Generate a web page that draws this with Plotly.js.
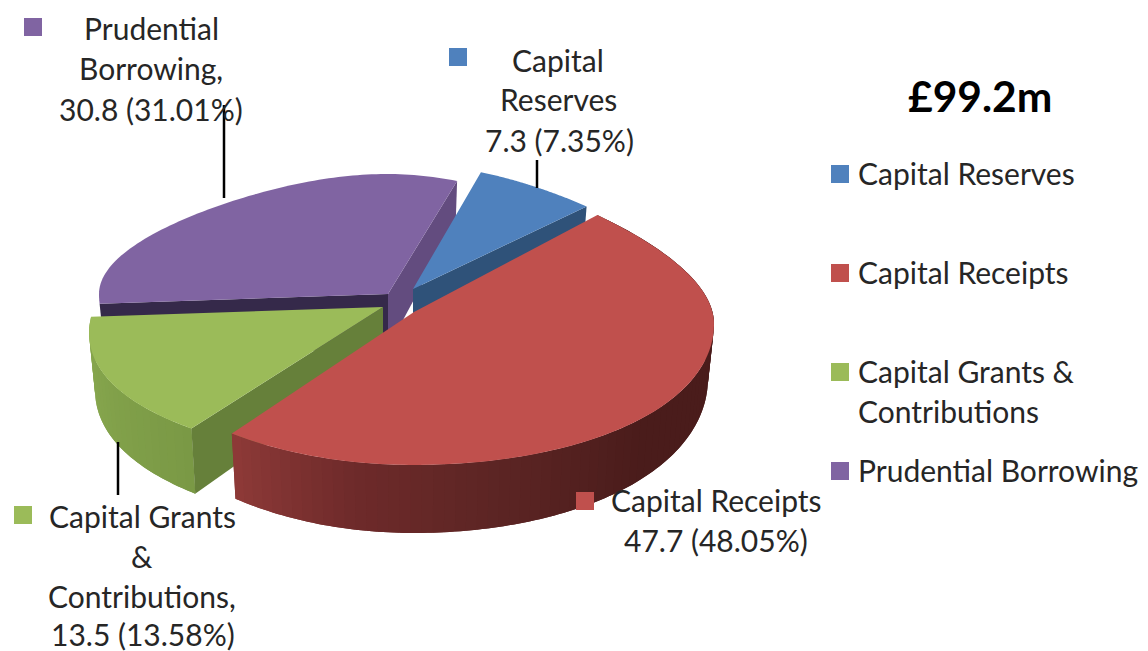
<!DOCTYPE html>
<html><head><meta charset="utf-8">
<script src="https://cdn.plot.ly/plotly-3.0.1.min.js"></script>
<style>html,body{margin:0;padding:0;background:#fff}</style></head>
<body><div id="chart" style="width:1148px;height:651px"></div>
<script>
(function(){
// ---- data ----
const categories = ["Capital Reserves","Capital Receipts","Capital Grants & Contributions","Prudential Borrowing"];
const values = [7.3,47.7,13.5,30.8];
const percents = ["7.35%","48.05%","13.58%","31.01%"];
const chartTitle = "£99.2m";

// ---- styling / placement ----
const topColors  = ["#4f81bd","#c0504d","#9bbb59","#8064a2"];
const FONT = "Lato, 'Open Sans', sans-serif";
const TXT = "#262626";
const FS = 30;
const apexX = [413,414,383,388], apexY = [289,312,307,294];
const radX  = [284,300,289,289];
const ryBack = [124,144,124,120];
const frontBulge = [0,0,0.19,0];
const START = 18;
const RY_FRONT = 153, SAG = 12;

const total = values.reduce((a,b)=>a+b,0);
const angles = []; let acc = START;
values.forEach(v=>{ angles.push([acc, acc + v/total*360]); acc += v/total*360; });

function wallH(v){ return 54 - 14*v; }
function proj(i, deg, z){            // z: 0 = top face, 1 = bottom of wall
  const t = deg*Math.PI/180, u = Math.sin(t), v = Math.cos(t);
  const g = v>0 ? 1-0.25*v*v : 1+frontBulge[i]*Math.abs(u*v);
  const dx = radX[i]*u*g*(1-0.02*z);
  const dy = -v*(v>0?ryBack[i]:RY_FRONT) + (u>0?SAG*u*u:0) + wallH(v)*z;
  return [apexX[i]+dx, apexY[i]+dy];
}
function apexAt(i, z){ return [apexX[i], apexY[i]+54*z]; }
const traces = [];
function poly(pts, color){
  const xs = pts.map(p=>p[0]).concat([pts[0][0]]);
  const ys = pts.map(p=>p[1]).concat([pts[0][1]]);
  traces.push({type:"scatter",mode:"none",x:xs,y:ys,fill:"toself",fillcolor:color,
    hoverinfo:"skip",showlegend:false});
}
function arc(i,a,b,z,n){ const r=[]; for(let k=0;k<=n;k++) r.push(proj(i,a+(b-a)*k/n,z)); return r; }
function topFace(i){ poly([[apexX[i],apexY[i]]].concat(arc(i,angles[i][0],angles[i][1],0,90)), topColors[i]); }
function edgeWall(i,deg,color){ poly([apexAt(i,0),proj(i,deg,0),proj(i,deg,1),apexAt(i,1)],color); }
function mix(a,b,f){ const c=[a,b].map(h=>[1,3,5].map(k=>parseInt(h.substr(k,2),16)));
  return "rgb("+[0,1,2].map(k=>Math.round(c[0][k]+(c[1][k]-c[0][k])*f)).join(",")+")"; }
function ramp(stops,f){
  for(let k=1;k<stops.length;k++){
    if(f<=stops[k][0]) return mix(stops[k-1][1],stops[k][1],(f-stops[k-1][0])/(stops[k][0]-stops[k-1][0]));
  }
  return stops[stops.length-1][1];
}
function outerWall(i,a,b,stops,n){   // strips overlap the next one, so no seams show
  for(let k=0;k<n;k++){
    const s=a+(b-a)*k/n, e=a+(b-a)*Math.min(k+2,n)/n;
    poly(arc(i,s,e,0,4).concat(arc(i,e,s,1,4)), ramp(stops,(k+0.5)/n));
  }
}
// purple (back)
edgeWall(3,angles[3][0],"#35294a");
edgeWall(3,angles[3][1],"#634c7f");
topFace(3);
// blue
edgeWall(0,angles[0][1],"#2f5279");
topFace(0);
// green
outerWall(2,angles[2][1],angles[2][0],[[0,"#8aaa50"],[1,"#7a9945"]],24);
edgeWall(2,angles[2][0],"#66803a");
topFace(2);
// red
outerWall(1,angles[1][0],angles[1][1],[[0,"#4a1c1b"],[0.5,"#4a1c1b"],[0.72,"#5f2625"],[0.85,"#6e2a2a"],[1,"#8e3a38"]],80);
topFace(1);

// leader lines
const leaders = [[[537,537],[160,188]],[[224,224],[105,198]],[[118,118],[442,495]]];
leaders.forEach(l=>traces.push({type:"scatter",mode:"lines",x:l[0],y:l[1],
  line:{color:"#000",width:2.5},hoverinfo:"skip",showlegend:false}));

// legend + data-label colour keys
const legendMarkX = [840,840,840,840], legendMarkY = [174,273,372,471];
const labelMarkX  = [458,585,23,33],   labelMarkY  = [57,501,515,27];
traces.push({type:"scatter",mode:"markers",x:legendMarkX.concat(labelMarkX),y:legendMarkY.concat(labelMarkY),
  marker:{symbol:"square",size:18,color:topColors.concat(topColors),line:{width:0}},hoverinfo:"skip",showlegend:false});

const ann = [];
function t(text,x,y,anchor,size,bold){
  ann.push({text:bold?"<b>"+text+"</b>":text,x:x,y:y,xref:"x",yref:"y",xanchor:anchor,yanchor:"middle",
    showarrow:false,font:{family:FONT,size:size,color:bold?"#000":TXT}});
}
t(chartTitle,980,95,"center",42.5,true);
t(categories[0],856,173,"left",FS);
t(categories[1],856,272,"left",FS);
t("Capital Grants &",856,371,"left",FS);
t("Contributions",856,411,"left",FS);
t(categories[3],856,470,"left",FS);
t("Capital",558,60,"center",FS);
t("Reserves",558,99,"center",FS);
t(values[0]+" ("+percents[0]+")",559,140,"center",FS);
t("Prudential",151,28,"center",FS);
t("Borrowing,",151,68,"center",FS);
t(values[3]+" ("+percents[3]+")",151,109,"center",FS);
t("Capital Grants",142,516,"center",FS);
t("&",142,556,"center",FS);
t("Contributions,",142,596,"center",FS);
t(values[2]+" ("+percents[2]+")",143,634,"center",FS);
t(categories[1],716,500,"center",FS);
t(values[1]+" ("+percents[1]+")",716,540,"center",FS);

const axis = {visible:false,fixedrange:true,showgrid:false,zeroline:false};
Plotly.newPlot("chart",traces,{
  width:1148,height:651,margin:{l:0,r:0,t:0,b:0},
  paper_bgcolor:"#fff",plot_bgcolor:"#fff",showlegend:false,hovermode:false,
  xaxis:Object.assign({range:[0,1148]},axis),
  yaxis:Object.assign({range:[651,0]},axis),
  annotations:ann
},{displayModeBar:false,staticPlot:true});
})();
</script></body></html>
